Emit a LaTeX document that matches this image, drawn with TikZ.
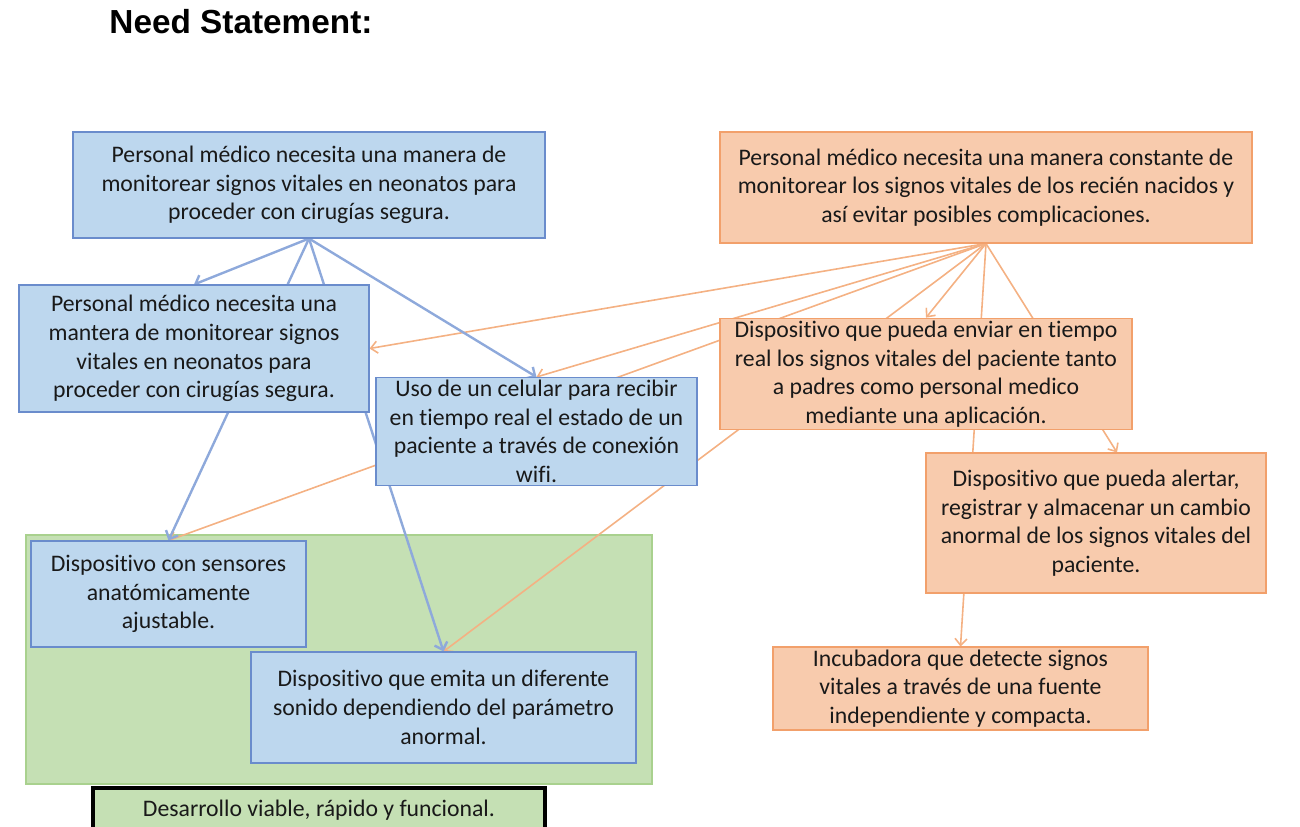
\documentclass[tikz,border=0pt]{standalone}
\usepackage{fontspec}
\setmainfont{Carlito}[Ligatures=NoCommon]
\newfontfamily\headfont{Liberation Sans}
\usetikzlibrary{arrows.meta}
\usetikzlibrary{backgrounds}
\usetikzlibrary{calc}

\definecolor{bluefill}{HTML}{BDD7EE}
\definecolor{blueline}{HTML}{6A8CCC}
\definecolor{bluearrowc}{HTML}{8EA9DB}
\definecolor{orangefill}{HTML}{F8CBAD}
\definecolor{orangeline}{HTML}{F2A06B}
\definecolor{orangearrowc}{HTML}{F4B183}
\definecolor{greenfill}{HTML}{C5E0B4}
\definecolor{greenline}{HTML}{A9D18E}

\begin{document}
\begin{tikzpicture}[x=0.75pt, y=-0.75pt,
	box/.style={draw, line width=0.8pt, align=center, inner sep=2pt, text=black!90, font=\fontsize{17.8}{21.5}\selectfont},
	bluebox/.style={box, fill=bluefill, draw=blueline},
	orangebox/.style={box, fill=orangefill, draw=orangeline},
	bluearrow/.style={draw=bluearrowc, line width=1.8pt, -{Straight Barb[length=5pt,width=10pt]}},
	orangearrow/.style={draw=orangearrowc, line width=1.2pt, -{Straight Barb[length=5pt,width=9pt]}}]

	\useasboundingbox (0,0) rectangle (1300,826);

	% Title
	\node [font=\headfont\bfseries\fontsize{25}{30}\selectfont] (title) at (241,22) {Need Statement:};

	% Blue boxes
	\node [bluebox, minimum width=354pt, minimum height=79.5pt] (b1) at (309,185) {Personal médico necesita una manera de\\monitorear signos vitales en neonatos para\\proceder con cirugías segura.};
	\node [bluebox, minimum width=262.5pt, minimum height=95.25pt] (b2) at (194,348.5) {Personal médico necesita una\\mantera de monitorear signos\\vitales en neonatos para\\proceder con cirugías segura.};
	\node [bluebox, minimum width=240.75pt, minimum height=80.25pt] (b3) at (536.5,431.5) {Uso de un celular para recibir\\en tiempo real el estado de un\\paciente a través de conexión\\wifi.};
	\node [bluebox, minimum width=206.25pt, minimum height=79.5pt] (g1) at (168.5,594) {Dispositivo con sensores\\anatómicamente\\ajustable.};
	\node [bluebox, minimum width=288.75pt, minimum height=83.25pt] (g2) at (443.5,707.5) {Dispositivo que emita un diferente\\sonido dependiendo del parámetro\\anormal.};

	% Orange boxes
	\node [orangebox, minimum width=399pt, minimum height=83.25pt] (o1) at (986,187.5) {Personal médico necesita una manera constante de\\monitorear los signos vitales de los recién nacidos y\\así evitar posibles complicaciones.};
	\node [orangebox, minimum width=309pt, minimum height=79.5pt] (o2) at (926,374) {Dispositivo que pueda enviar en tiempo\\real los signos vitales del paciente tanto\\a padres como personal medico\\mediante una aplicación.};
	\node [orangebox, minimum width=255pt, minimum height=105pt] (o3) at (1096,523) {Dispositivo que pueda alertar,\\registrar y almacenar un cambio\\anormal de los signos vitales del\\paciente.};
	\node [orangebox, minimum width=281.25pt, minimum height=62.25pt] (o4) at (960.5,688.5) {Incubadora que detecte signos\\vitales a través de una fuente\\independiente y compacta.};

	% Result box
	\node [box, fill=greenfill, draw=black, line width=2.5pt, minimum width=339pt, minimum height=33pt] (res) at (319,810) {Desarrollo viable, rápido y funcional.};

	\begin{scope}[on background layer]
		% Green area
		\node [draw=greenline, fill=greenfill, line width=0.8pt, minimum width=469.5pt, minimum height=186.75pt] (zona) at (339,659.5) {};

		%Orange arrows
		\draw [orangearrow] (o1.south) -- (b2.east);
		\draw [orangearrow] (o1.south) -- (b3.north);
		\draw [orangearrow] (o1.south) -- (g1.north);
		\draw [orangearrow] (o1.south) -- (g2.north);
		\draw [orangearrow] (o1.south) -- (o2.north);
		\draw [orangearrow] (o1.south) -- ($(o3.north)+(21,0)$);
		\draw [orangearrow] (o1.south) -- (o4.north);

		%Blue arrows
		\draw [bluearrow] (b1.south) -- (b2.north);
		\draw [bluearrow] (b1.south) -- (b3.north);
		\draw [bluearrow] (b1.south) -- (g1.north);
		\draw [bluearrow] (b1.south) -- (g2.north);
	\end{scope}

\end{tikzpicture}
\end{document}
